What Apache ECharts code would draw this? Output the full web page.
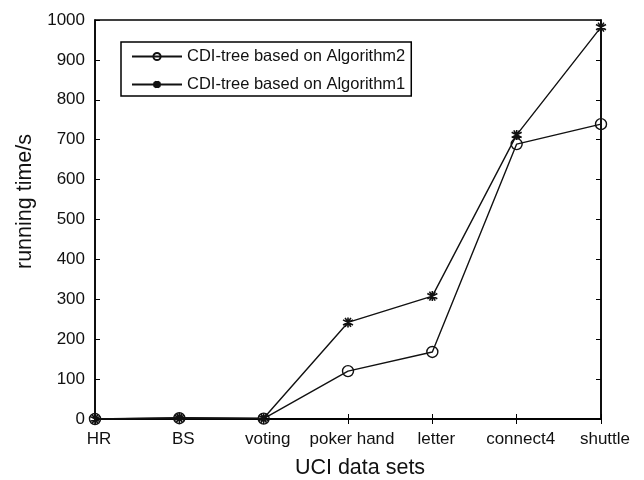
<!DOCTYPE html>
<html><head><meta charset="utf-8">
<script src="https://cdn.jsdelivr.net/npm/echarts@6/dist/echarts.min.js"></script>
<style>html,body{margin:0;padding:0;background:#fff}#c{width:644px;height:480px}</style>
</head><body><div id="c"></div>
<script>
const categories = ['HR','BS','voting','poker hand','letter','connect4','shuttle'];
const algo2 = [0, 2, 1, 120, 168, 689, 739];
const algo1 = [0, 3, 2, 242, 308, 712, 982];
const yTicks = [0,100,200,300,400,500,600,700,800,900,1000];
const seriesNames = ['CDI-tree based on Algorithm2','CDI-tree based on Algorithm1'];

const F = 'Liberation Sans, Arial, Helvetica, sans-serif';
const star = 'path://M0,-5L0,5M-4.5,-2.6L4.5,2.6M-4.5,2.6L4.5,-2.6M-2.6,-4.5L2.6,4.5M-2.6,4.5L2.6,-4.5';
const chart = echarts.init(document.getElementById('c'), null, {renderer:'canvas'});
chart.setOption({
  animation:false,
  backgroundColor:'#fff',
  grid:{left:95,right:43,top:20,bottom:61,containLabel:false,outerBoundsMode:'none',
    show:true,borderColor:'#000',borderWidth:1.5,backgroundColor:'transparent'},
  legend:{
    left:121, top:42, orient:'vertical', itemWidth:50, itemHeight:9, itemGap:11,
    padding:[6,6,3,10], borderColor:'#000', borderWidth:1.5, backgroundColor:'#fff',
    textStyle:{fontFamily:F,fontSize:16.5,color:'#111'},
    data:seriesNames
  },
  xAxis:[{
    type:'category', data:categories, boundaryGap:false,
    name:'UCI data sets', nameLocation:'middle', nameGap:38, nameMoveOverlap:false,
    nameTextStyle:{fontFamily:F,fontSize:21.5,color:'#111',padding:[0,0,0,24]},
    axisLine:{lineStyle:{color:'#000',width:1.5}},
    axisTick:{inside:true,length:5,lineStyle:{color:'#000'}},
    axisLabel:{fontFamily:F,fontSize:17,color:'#111',margin:12,interval:0,padding:[0,0,0,8]},
    splitLine:{show:false}
  },{
    type:'category', data:categories, boundaryGap:false, position:'top',
    axisLine:{lineStyle:{color:'#000',width:1.5}},
    axisTick:{inside:true,length:5,interval:0,lineStyle:{color:'#000'}},
    axisLabel:{show:false}, splitLine:{show:false}
  }],
  yAxis:[{
    type:'value', min:0, max:1000, interval:100,
    name:'running time/s', nameLocation:'middle', nameGap:59, nameMoveOverlap:false,
    nameTextStyle:{fontFamily:F,fontSize:21.5,color:'#111',padding:[0,0,0,36]},
    axisLine:{show:true,lineStyle:{color:'#000',width:1.5}},
    axisTick:{show:true,inside:true,length:5,lineStyle:{color:'#000'}},
    axisLabel:{fontFamily:F,fontSize:17,color:'#111',margin:10,
      formatter:v=>yTicks.includes(v)?String(v):''},
    splitLine:{show:false}
  },{
    type:'value', min:0, max:1000, interval:100, position:'right',
    axisLine:{show:true,lineStyle:{color:'#000',width:1.5}},
    axisTick:{show:true,inside:true,length:5,lineStyle:{color:'#000'}},
    axisLabel:{show:false}, splitLine:{show:false}
  }],
  series:[{
    name:seriesNames[0], type:'line', data:algo2,
    symbol:'circle', symbolSize:11, showAllSymbol:true,
    lineStyle:{color:'#111',width:1.4},
    itemStyle:{color:'rgba(255,255,255,0)',borderColor:'#111',borderWidth:1.4}
  },{
    name:seriesNames[1], type:'line', data:algo1,
    symbol:star, symbolSize:10, showAllSymbol:true,
    lineStyle:{color:'#111',width:1.4},
    itemStyle:{color:'#111',borderColor:'#111',borderWidth:1.6}
  }]
});
</script></body></html>
